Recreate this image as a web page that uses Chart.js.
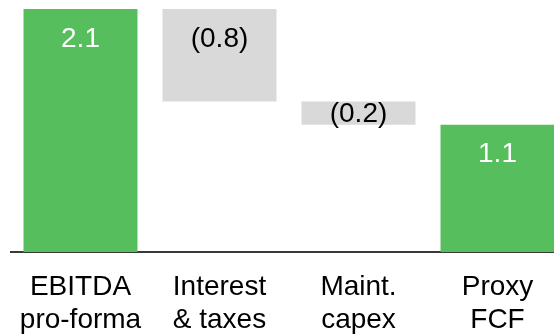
<!DOCTYPE html>
<html>
<head>
<meta charset="utf-8">
<script src="https://cdn.jsdelivr.net/npm/chart.js@4/dist/chart.umd.min.js"></script>
<style>
    html, body { margin: 0; padding: 0; background: #fff; overflow: hidden; }
    #wrap { width: 567px; height: 336px; position: relative; }
</style>
</head>
<body>
<div id="wrap"><canvas id="bridgeChart"></canvas></div>
<script>
// Chart data
const categories = [['EBITDA', 'pro-forma'], ['Interest', '& taxes'], ['Maint.', 'capex'], ['Proxy', 'FCF']];
const changes = [2.1, -0.8, -0.2, 1.1];
const isTotal = [true, false, false, true];

const green = 'rgb(87, 190, 94)';
const grey = 'rgb(217, 217, 217)';
const fontFamily = '"Liberation Sans", Arial, sans-serif';

// Build floating ranges for the waterfall
let running = 0;
const ranges = changes.map((v, i) => {
    if (isTotal[i]) {
        running = v;
        return [0, v];
    }
    const start = running;
    running = running + v;
    return [running, start];
});

function formatValue(v) {
    return v < 0 ? '(' + Math.abs(v).toFixed(1) + ')' : v.toFixed(1);
}

// Value labels inside the bars
const barLabels = {
    id: 'barLabels',
    afterDatasetsDraw(chart) {
        const ctx = chart.ctx;
        const meta = chart.getDatasetMeta(0);
        ctx.save();
        ctx.font = '28px ' + fontFamily;
        ctx.textAlign = 'center';
        ctx.textBaseline = 'middle';
        meta.data.forEach((bar, i) => {
            const top = Math.min(bar.y, bar.base);
            const bottom = Math.max(bar.y, bar.base);
            const y = Math.min(top + 29, (top + bottom) / 2);
            ctx.fillStyle = isTotal[i] ? '#ffffff' : '#000000';
            ctx.fillText(formatValue(changes[i]), bar.x, y + 1);
        });
        ctx.restore();
    }
};

new Chart(document.getElementById('bridgeChart'), {
    type: 'bar',
    data: {
        labels: categories,
        datasets: [{
            data: ranges,
            backgroundColor: isTotal.map(t => t ? green : grey),
            borderWidth: 0,
            borderSkipped: false,
            categoryPercentage: 1,
            barPercentage: 0.82
        }]
    },
    options: {
        responsive: true,
        maintainAspectRatio: false,
        animation: false,
        layout: {
            padding: { top: 9, left: 11, right: 0, bottom: 0 }
        },
        plugins: {
            legend: { display: false },
            tooltip: { enabled: false }
        },
        scales: {
            x: {
                grid: { display: false },
                border: { display: true, color: '#3a3a3a', width: 2 },
                ticks: {
                    color: '#000',
                    maxRotation: 0,
                    autoSkip: false,
                    padding: 10,
                    font: { family: fontFamily, size: 28, lineHeight: 1.2 }
                },
                afterFit(scale) {
                    scale.height = 84;
                }
            },
            y: {
                display: false,
                min: 0,
                max: 2.1
            }
        }
    },
    plugins: [barLabels]
});
</script>
</body>
</html>
